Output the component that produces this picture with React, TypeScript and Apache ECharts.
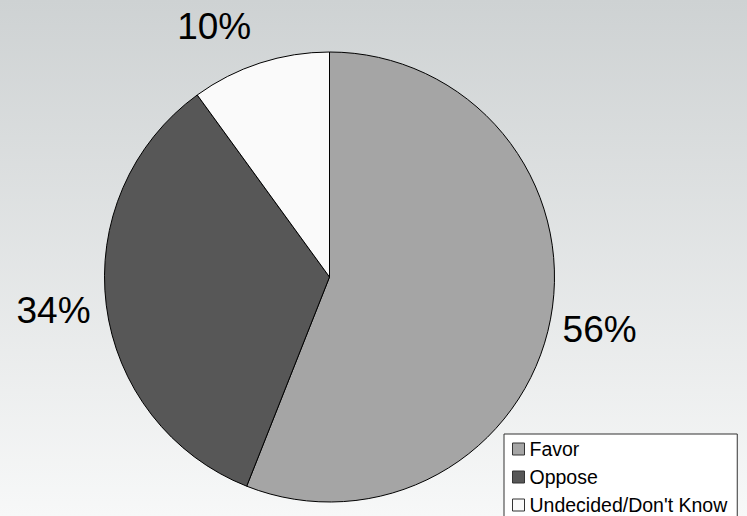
import React, { useEffect, useRef } from "react";
import * as echarts from "echarts";

const categories = ["Favor", "Oppose", "Undecided/Don't Know"];
const values = [56, 34, 10];
const colors = ["#a5a5a5", "#575757", "#fafafa"];
// per-slice label placement tuning (label line lengths, line hidden)
const labelLen = [53, 39, 38];
const labelLen2 = [-45, -28, -8];

export default function App() {
  const ref = useRef<HTMLDivElement>(null);
  useEffect(() => {
    document.body.style.margin = "0";
    const chart = echarts.init(ref.current!, undefined, { renderer: "svg" });
    chart.setOption({
      animation: false,
      backgroundColor: {
        type: "linear",
        x: 0,
        y: 0,
        x2: 0,
        y2: 1,
        colorStops: [
          { offset: 0, color: "#ced2d3" },
          { offset: 1, color: "#f7f8f8" },
        ],
      },
      legend: {
        orient: "vertical",
        left: 504,
        top: 434,
        height: 120,
        data: categories,
        icon: "rect",
        itemWidth: 12,
        itemHeight: 12,
        itemGap: 8,
        itemStyle: { borderColor: "#333", borderWidth: 1 },
        backgroundColor: "#ffffff",
        borderColor: "#333333",
        borderWidth: 1,
        borderRadius: 0,
        padding: [5, 10, 9, 8],
        textStyle: {
          fontFamily: "Liberation Sans, Arial, sans-serif",
          fontSize: 19.5,
          color: "#000",
        },
      },
      series: [
        {
          type: "pie",
          center: [329.5, 277],
          radius: 225,
          startAngle: 90,
          clockwise: true,
          itemStyle: { borderColor: "#000", borderWidth: 1 },
          emphasis: { disabled: true },
          label: {
            show: true,
            position: "outside",
            formatter: "{c}%",
            fontFamily: "Liberation Sans, Arial, sans-serif",
            fontSize: 37,
            color: "#000",
            bleedMargin: 0,
            distanceToLabelLine: 5,
          },
          labelLine: { show: false },
          data: categories.map((name, i) => ({
            name,
            value: values[i],
            itemStyle: { color: colors[i] },
            labelLine: { show: false, length: labelLen[i], length2: labelLen2[i] },
          })),
        },
      ],
    });
    return () => chart.dispose();
  }, []);
  return <div ref={ref} style={{ width: 747, height: 516 }} />;
}
